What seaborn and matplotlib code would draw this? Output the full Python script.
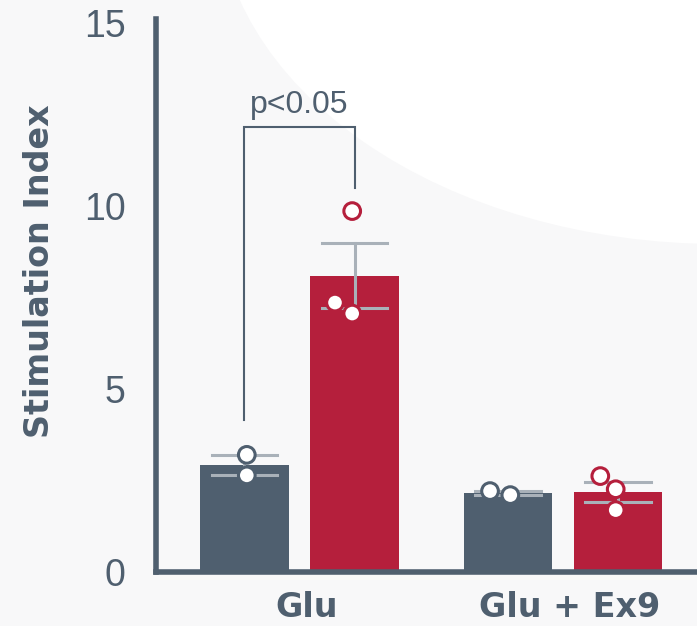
import numpy as np
import pandas as pd
import matplotlib
matplotlib.use("Agg")
import matplotlib.pyplot as plt
from matplotlib.patches import Ellipse
from matplotlib.transforms import ScaledTranslation
import seaborn as sns

# Stimulation index per replicate
treatments = ["Glu", "Glu + Ex9"]
groups = ["Vehicle", "Treated"]
glu_vehicle = [3.20, 2.64]
glu_treated = [9.86, 7.36, 7.06]
ex9_vehicle = [2.10, 2.21]
ex9_treated = [2.62, 2.26, 1.69]
y_ticks = [0, 5, 10, 15]
p_label = "p<0.05"

records = []
for trt, grp, vals in [
    ("Glu", "Vehicle", glu_vehicle),
    ("Glu", "Treated", glu_treated),
    ("Glu + Ex9", "Vehicle", ex9_vehicle),
    ("Glu + Ex9", "Treated", ex9_treated),
]:
    for v in vals:
        records.append({"treatment": trt, "group": grp, "si": v})
df = pd.DataFrame(records)

slate = "#4f5f6f"
crimson = "#b51f3c"
err_col = "#a9b1b9"
bg_col = "#f8f8f9"
palette = [slate, crimson]

fig = plt.figure(figsize=(6.97, 6.26), dpi=100, facecolor=bg_col)
fig.add_artist(Ellipse((1.033, 1.1645), 1.443, 1.1086, transform=fig.transFigure,
                       facecolor="white", edgecolor="none", zorder=-1))

ax = fig.add_axes([0.2238, 0.0863, 0.7762, 0.8829])
ax.patch.set_alpha(0)

sns.barplot(data=df, x="treatment", y="si", hue="group", order=treatments,
            hue_order=groups, palette=palette, saturation=1, errorbar="se",
            capsize=0.5, err_kws={"color": err_col, "linewidth": 2.2},
            width=0.835, gap=0.195, legend=False, ax=ax)

n_before = len(ax.collections)
sns.swarmplot(data=df, x="treatment", y="si", hue="group", order=treatments,
              hue_order=groups, palette=palette, dodge=True, size=12,
              linewidth=2.2, legend=False, zorder=3, ax=ax)
for coll in ax.collections[n_before:]:
    fc = coll.get_facecolor()
    coll.set_edgecolor(fc)
    coll.set_facecolor("white")

ax.set_xlim(-0.5446, 1.5085)
ax.set_ylim(0, 15.1)

# significance bracket between the two Glu bars
bars = ax.patches
centers = sorted(b.get_x() + b.get_width() / 2 for b in bars)
x_left, x_right = centers[0], centers[1]
top = max(glu_treated) + 2.3
ax.plot([x_left, x_left, x_right, x_right],
        [max(glu_vehicle) + 0.95, top, top, max(glu_treated) + 0.63],
        color=slate, lw=1.5, solid_joinstyle="miter", zorder=2)
ax.text((x_left + x_right) / 2, top + 0.2, p_label, ha="center", va="bottom",
        fontsize=23, color=slate, family=["Liberation Sans", "DejaVu Sans"])

for side in ["top", "right"]:
    ax.spines[side].set_visible(False)
for side in ["left", "bottom"]:
    ax.spines[side].set_color(slate)
    ax.spines[side].set_linewidth(4)

ax.set_yticks(y_ticks)
ax.set_yticklabels([str(t) for t in y_ticks], fontsize=27, color=slate,
                   family=["Liberation Sans", "DejaVu Sans"])
ax.tick_params(axis="y", length=0, pad=22)
ax.set_xticks(range(len(treatments)))
ax.set_xticklabels(treatments, fontsize=24, fontweight="bold", color=slate,
                   family="DejaVu Sans")
ax.tick_params(axis="x", length=0, pad=14)
shift = ScaledTranslation(5 / 72, 0, fig.dpi_scale_trans)
for lab in ax.get_xticklabels():
    lab.set_transform(lab.get_transform() + shift)

ax.set_xlabel("")
ax.set_ylabel("Stimulation Index", fontsize=24, fontweight="bold", color=slate,
              family="DejaVu Sans")
ax.yaxis.label.set_verticalalignment("center")
ax.yaxis.set_label_coords(-0.216, 0.5446)

fig.savefig("out.png", dpi=100, facecolor=bg_col)
